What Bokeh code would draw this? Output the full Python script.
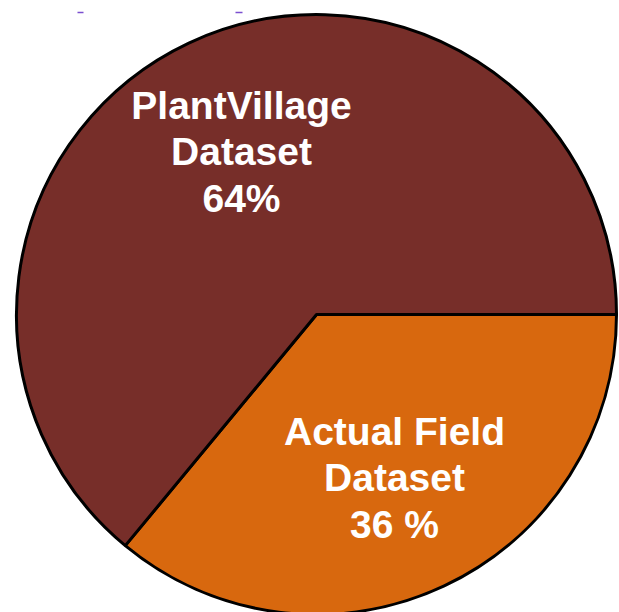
from math import pi

from bokeh.core.properties import value
from bokeh.embed import file_html
from bokeh.models import ColumnDataSource
from bokeh.plotting import figure
from bokeh.resources import INLINE

# Share of images per dataset source
categories = ["Actual Field Dataset", "PlantVillage Dataset"]
shares = [36, 64]
labels = [["Actual Field", "Dataset", "36 %"], ["PlantVillage", "Dataset", "64%"]]
colors = ["#D8680E", "#772E29"]

W, H = 619, 612
cx, cy, r = 316, H - 314, 300

# Slices run clockwise from 3 o'clock
starts, ends = [], []
acc = 0.0
for s in shares:
    starts.append(-2 * pi * acc / 100)
    acc += s
    ends.append(-2 * pi * acc / 100)

src = ColumnDataSource(dict(cat=categories, share=shares, start=starts, end=ends, color=colors))

p = figure(width=W, height=H, x_range=(0, W), y_range=(0, H),
           output_backend="svg", toolbar_location=None, min_border=0)
p.axis.visible = False
p.grid.visible = False
p.outline_line_color = None
p.background_fill_color = "white"
p.border_fill_color = "white"

p.wedge(x=cx, y=cy, radius=r, start_angle="start", end_angle="end", direction="clock",
        fill_color="color", line_color="black", line_width=3, source=src)

# Label blocks placed inside each slice, one text row per line
block_x = [394, 241]
block_y = [H - 477, H - 151]
line_gap = 46.5
tx, ty, tt = [], [], []
for bx, by, lines in zip(block_x, block_y, labels):
    n = len(lines)
    for i, line in enumerate(lines):
        tx.append(bx)
        ty.append(by + ((n - 1) / 2 - i) * line_gap)
        tt.append(line)

p.text(x=tx, y=ty, text=tt, text_color="white",
       text_font=value("Liberation Sans"), text_font_style="bold",
       text_font_size="39px", text_align="center", text_baseline="middle")

# small stray marks along the top edge
p.segment(x0=[77, 235], y0=[H - 12, H - 12], x1=[83, 242], y1=[H - 12, H - 12],
          line_color="#7B4FD0", line_width=1.5)

open("out.html", "w").write(file_html(p, INLINE))
